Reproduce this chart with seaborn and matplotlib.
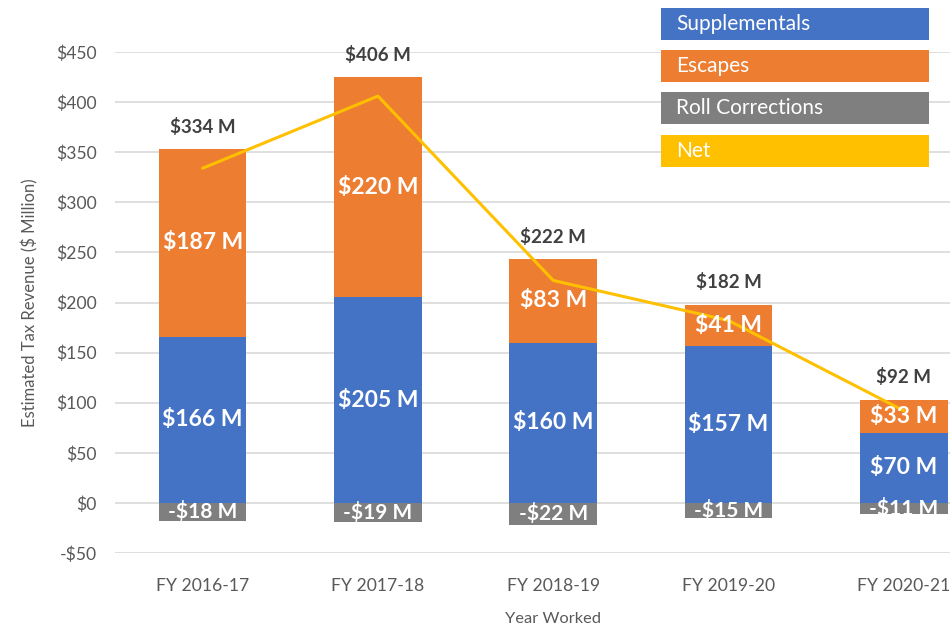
import matplotlib
matplotlib.use("Agg")
import matplotlib.pyplot as plt
from matplotlib.patches import Rectangle
import seaborn as sns
import pandas as pd

categories = ["FY 2016-17", "FY 2017-18", "FY 2018-19", "FY 2019-20", "FY 2020-21"]
supplementals = [166, 205, 160, 157, 70]
escapes = [187, 220, 83, 41, 33]
roll_corrections = [-18, -19, -22, -15, -11]
net = [334, 406, 222, 182, 92]
yticks = [-50, 0, 50, 100, 150, 200, 250, 300, 350, 400, 450]
legend_labels = ["Supplementals", "Escapes", "Roll Corrections", "Net"]

C_BLUE = "#4472C4"
C_ORANGE = "#ED7D31"
C_GRAY = "#7F7F7F"
C_GOLD = "#FFC000"

sns.set_theme(style="white")
plt.rcParams["font.family"] = ["Lato", "DejaVu Sans"]

df = pd.DataFrame({
    "cat": categories,
    "supp": supplementals,
    "esc": escapes,
    "roll": roll_corrections,
    "net": net,
})
df["top"] = df["supp"] + df["esc"]

fig = plt.figure(figsize=(9.5, 6.25), dpi=100)
ax = fig.add_axes([115 / 950, 72 / 625, 876.5 / 950, 501 / 625])

sns.barplot(data=df, x="cat", y="top", color=C_ORANGE, saturation=1, width=0.5,
            linewidth=0, ax=ax, zorder=2)
sns.barplot(data=df, x="cat", y="supp", color=C_BLUE, saturation=1, width=0.5,
            linewidth=0, ax=ax, zorder=2)
sns.barplot(data=df, x="cat", y="roll", color=C_GRAY, saturation=1, width=0.5,
            linewidth=0, ax=ax, zorder=2)
sns.lineplot(data=df, x="cat", y="net", color=C_GOLD, linewidth=2.2, ax=ax,
             zorder=3, sort=False)

ax.set_ylim(-50, 450)
ax.set_xlim(-0.5, 4.5)
ax.set_yticks(yticks)
ax.set_yticklabels([f"-${abs(v)}" if v < 0 else f"${v}" for v in yticks])
ax.yaxis.grid(True, color="#D9D9D9", linewidth=1.2, zorder=0)
ax.set_axisbelow(True)
for s in ax.spines.values():
    s.set_visible(False)
ax.tick_params(axis="both", length=0, labelcolor="#595959", labelsize=12.6)
ax.tick_params(axis="y", pad=13)
ax.tick_params(axis="x", pad=18)
ax.set_xlabel("Year Worked", color="#595959", fontsize=11.8, labelpad=13)
ax.set_ylabel("Estimated Tax Revenue ($ Million)", color="#595959", fontsize=12, labelpad=13)

for i, row in df.iterrows():
    ax.text(i, row["supp"] / 2, f"${row['supp']} M", ha="center", va="center",
            color="white", fontsize=16.5, fontweight="bold", zorder=5)
    ax.text(i, row["supp"] + row["esc"] / 2, f"${row['esc']} M", ha="center", va="center",
            color="white", fontsize=16.5, fontweight="bold", zorder=5)
    ax.text(i, row["roll"] / 2, f"-${abs(row['roll'])} M", ha="center", va="center",
            color="white", fontsize=15, fontweight="bold", zorder=5)
    ax.annotate(f"${row['net']} M", (i, row["top"]), xytext=(0, 16),
                textcoords="offset points", ha="center", va="center",
                color="#404040", fontsize=13.5, fontweight="bold", zorder=5)

# legend as colored boxes
box_tops = [8, 50, 92, 135]
box_colors = [C_BLUE, C_ORANGE, C_GRAY, C_GOLD]
for lab, top, col in zip(legend_labels, box_tops, box_colors):
    h = 32
    fig.add_artist(Rectangle((661 / 950, 1 - (top + h) / 625), 268 / 950, h / 625,
                             transform=fig.transFigure, facecolor=col,
                             edgecolor="none", zorder=10))
    fig.text(676 / 950, 1 - (top + h / 2) / 625, lab, color="white", fontsize=15,
             va="center", ha="left", zorder=11)

fig.savefig("out.png", dpi=100)
